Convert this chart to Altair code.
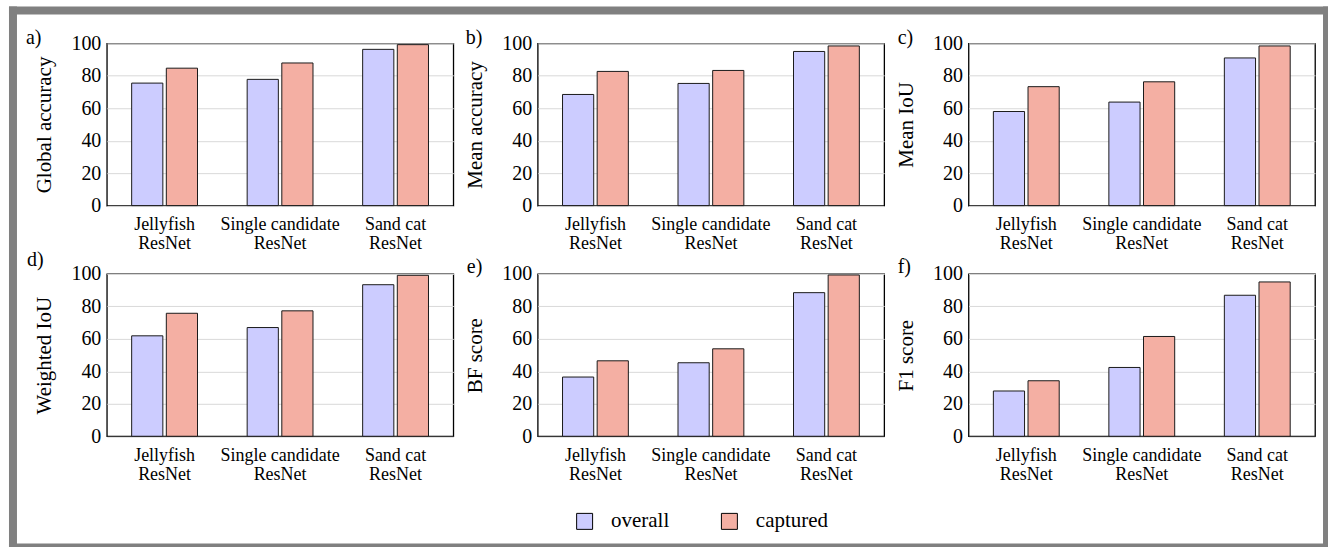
import altair as alt
import pandas as pd

categories = ["Jellyfish\nResNet", "Single candidate\nResNet", "Sand cat\nResNet"]
series = ["overall", "captured"]
metrics = ["Global accuracy", "Mean accuracy", "Mean IoU", "Weighted IoU", "BF score", "F1 score"]
panel_labels = ["a)", "b)", "c)", "d)", "e)", "f)"]

global_accuracy_overall = [75.5, 77.8, 96.3]
global_accuracy_captured = [84.7, 87.9, 99.2]
mean_accuracy_overall = [68.5, 75.3, 95.0]
mean_accuracy_captured = [82.7, 83.3, 98.4]
mean_iou_overall = [58.0, 63.8, 91.0]
mean_iou_captured = [73.3, 76.3, 98.4]
weighted_iou_overall = [61.9, 67.0, 93.4]
weighted_iou_captured = [75.8, 77.3, 99.2]
bf_score_overall = [36.5, 45.3, 88.5]
bf_score_captured = [46.5, 53.9, 99.4]
f1_score_overall = [27.9, 42.4, 86.9]
f1_score_captured = [34.2, 61.5, 95.1]

values = {
    "Global accuracy": (global_accuracy_overall, global_accuracy_captured),
    "Mean accuracy": (mean_accuracy_overall, mean_accuracy_captured),
    "Mean IoU": (mean_iou_overall, mean_iou_captured),
    "Weighted IoU": (weighted_iou_overall, weighted_iou_captured),
    "BF score": (bf_score_overall, bf_score_captured),
    "F1 score": (f1_score_overall, f1_score_captured),
}

rows = []
for m in metrics:
    ov, ca = values[m]
    for c, v in zip(categories, ov):
        rows.append({"metric": m, "category": c, "series": "overall", "value": v})
    for c, v in zip(categories, ca):
        rows.append({"metric": m, "category": c, "series": "captured", "value": v})
df = pd.DataFrame(rows)

colors = ["#ccccff", "#f4afa3"]
FONT = "Liberation Serif, Times New Roman, serif"

label_dx = [-81, -72, -71, -80, -71, -71]
label_dy = [1, 1, 1, -8, -1, -1]

W = 347
H = 162.5

legend = alt.Legend(
    title=None, orient="none", direction="horizontal", legendX=468, legendY=468,
    symbolType="square", symbolSize=256, symbolStrokeColor="black", symbolStrokeWidth=1,
    symbolOpacity=1, labelFontSize=21, labelFont=FONT, labelOffset=16, columnPadding=49,
    labelColor="black",
)

one = pd.DataFrame({"k": [0]})


def frame_rect(x, x2, y, y2):
    return alt.Chart(one).mark_rect(color="#808080").encode(
        x=alt.value(x), x2=alt.value(x2), y=alt.value(y), y2=alt.value(y2)
    )


def panel(i):
    m = metrics[i]
    bars = alt.Chart(df).transform_filter(alt.datum.metric == m).mark_bar(
        stroke="#1a1a1a", strokeWidth=1
    ).encode(
        x=alt.X(
            "category:N", sort=categories,
            scale=alt.Scale(paddingInner=0.43, paddingOuter=0.215),
            axis=alt.Axis(
                title=None, labelExpr="split(datum.label, '\\n')", labelAngle=0,
                ticks=False, domain=False, labelPadding=10, labelFontSize=18,
                labelLineHeight=19, labelFont=FONT, labelColor="black",
            ),
        ),
        xOffset=alt.XOffset(
            "series:N", sort=series, scale=alt.Scale(paddingInner=0.1, paddingOuter=0)
        ),
        y=alt.Y(
            "value:Q", scale=alt.Scale(domain=[0, 100], nice=False),
            axis=alt.Axis(
                title=m, values=[0, 20, 40, 60, 80, 100], ticks=False, domain=False,
                labelPadding=6, labelFontSize=20, labelFont=FONT, labelColor="black",
                titleFontSize=21, titleFont=FONT, titleFontWeight="normal",
                titleColor="black", titleX=-56, titleBaseline="alphabetic",
                grid=True, gridColor="#d9d9d9",
            ),
        ),
        color=alt.Color(
            "series:N", sort=series, scale=alt.Scale(domain=series, range=colors), legend=legend
        ),
    )
    lab = alt.Chart(pd.DataFrame({"t": [panel_labels[i]]})).mark_text(
        align="left", baseline="alphabetic", fontSize=20, font=FONT, color="black"
    ).encode(text="t:N", x=alt.value(label_dx[i]), y=alt.value(label_dy[i]))
    layers = [bars, lab]
    if i == 0:
        layers += [
            frame_rect(-98, -90, -37, 505),
            frame_rect(-98, 1223, -37, -29),
            frame_rect(1218, 1223, -37, 505),
            frame_rect(-98, 1223, 501, 505),
        ]
    return alt.layer(*layers).properties(width=W, height=H)


chart = alt.concat(
    *[panel(i) for i in range(6)], columns=3,
    spacing={"row": 68, "column": 84.5}, bounds="flush",
).properties(
    padding={"left": 8, "top": 5, "right": 0, "bottom": 0}, background="white"
).configure_view(stroke="black", strokeWidth=1.3)

chart.save("out.html", embed_options={"renderer": "svg", "actions": False})
